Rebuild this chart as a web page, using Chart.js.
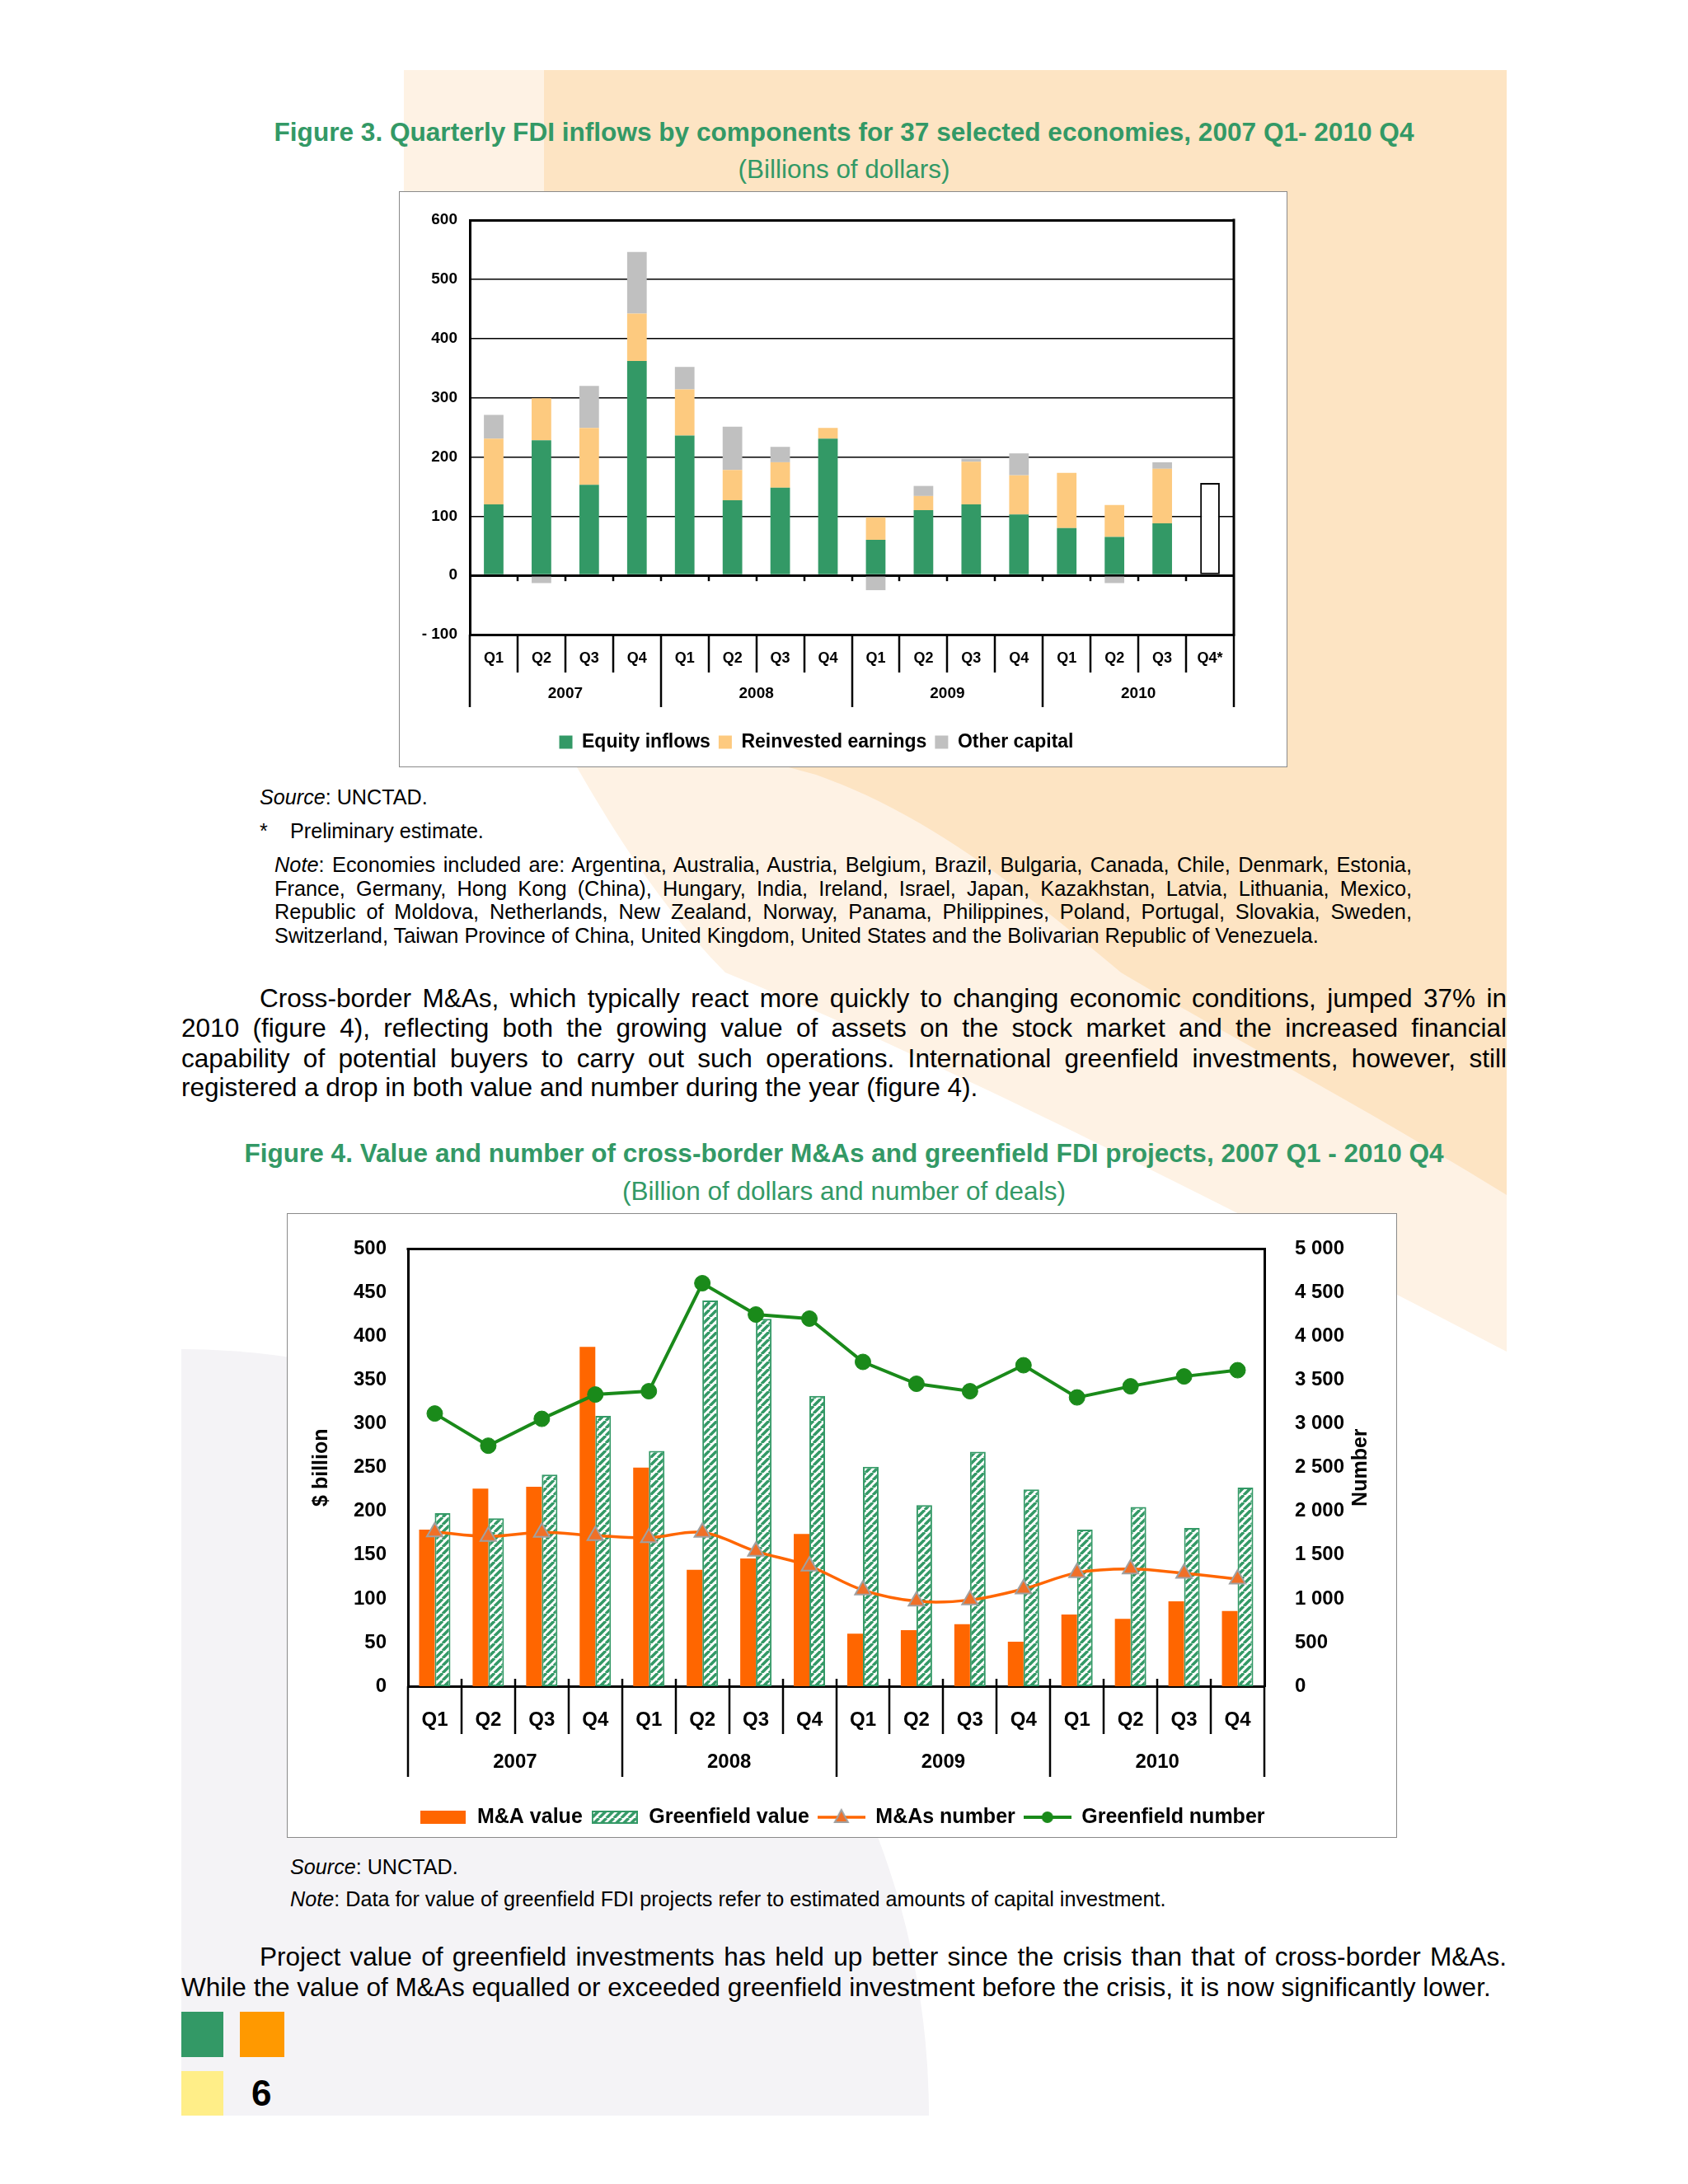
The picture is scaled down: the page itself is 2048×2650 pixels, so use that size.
<!DOCTYPE html>
<html>
<head>
<meta charset="utf-8">
<title>Quarterly FDI inflows, M&amp;As and greenfield projects</title>
<script src="https://cdn.jsdelivr.net/npm/chart.js@4.4.1/dist/chart.umd.min.js"></script>
<style>
  html, body { margin: 0; padding: 0; background: #fff; }
  #page { position: relative; width: 2048px; height: 2650px; overflow: hidden;
          font-family: "Liberation Sans", Arial, sans-serif; color: #000; }
  #bg { position: absolute; left: 0; top: 0; }
  .t { position: absolute; white-space: nowrap; font-size: 24px; line-height: 24px; }
  .ctr { left: 1024px; transform: translateX(-50%); }
  .figtitle { color: #339966; font-weight: bold; }
  .figsub { color: #339966; }
  .box { position: absolute; background: #fff; border: 1.5px solid #8a8a8a; box-sizing: border-box; }
  canvas { position: absolute; }
  .sq { position: absolute; }
</style>
</head>
<body>
<div id="page">
  <svg id="bg" width="2048" height="2650" viewBox="0 0 2048 2650">
    <path d="M490 85 H1828 V1640 C1560 1500 1150 1290 880 1180 C800 1100 740 1000 700 931 L490 931 Z" fill="#fef2e4"/>
    <path d="M660 85 H1828 V1450 C1650 1340 1460 1240 1360 1180 C1240 1080 1130 990 990 940 C850 900 720 890 660 880 Z" fill="#fde4c3"/>
    <path d="M220 1637 A907 930 0 0 1 1127 2567 L220 2567 Z" fill="#f4f3f6"/>
  </svg>

  <div class="t ctr figtitle" data-fit="t3" data-g="t3" data-w="1383" data-c="161">Figure 3. Quarterly FDI inflows by components for 37 selected economies, 2007 Q1- 2010 Q4</div>
  <div class="t ctr figsub" data-fit="s3" data-g="s3" data-w="257" data-c="206">(Billions of dollars)</div>
  <div class="box" style="left:484px;top:232px;width:1078px;height:699px"></div>
  <canvas id="fdiChart" width="1078" height="699" style="left:484px;top:232px"></canvas>

  <div class="t" data-g="src" data-c="968" style="left:315px"><i>Source</i>: UNCTAD.</div>
  <div class="t" data-g="src" data-c="1009" style="left:315px">*</div>
  <div class="t" data-fit="src" data-g="src" data-w="235" data-c="1009" style="left:352px">Preliminary estimate.</div>
  <div class="t jl" data-g="note3" data-w="1380" data-c="1049.4" style="left:333px"><i>Note</i>: Economies included are: Argentina, Australia, Austria, Belgium, Brazil, Bulgaria, Canada, Chile, Denmark, Estonia,</div>
  <div class="t jl" data-g="note3" data-w="1380" data-c="1078.2" style="left:333px">France, Germany, Hong Kong (China), Hungary, India, Ireland, Israel, Japan, Kazakhstan, Latvia, Lithuania, Mexico,</div>
  <div class="t jl" data-g="note3" data-w="1380" data-c="1107" style="left:333px">Republic of Moldova, Netherlands, New Zealand, Norway, Panama, Philippines, Poland, Portugal, Slovakia, Sweden,</div>
  <div class="t" data-fit="note3" data-g="note3" data-w="1267" data-c="1135.7" style="left:333px">Switzerland, Taiwan Province of China, United Kingdom, United States and the Bolivarian Republic of Venezuela.</div>

  <div class="t jl" data-g="body" data-w="1513" data-c="1212" style="left:315px">Cross-border M&amp;As, which typically react more quickly to changing economic conditions, jumped 37% in</div>
  <div class="t jl" data-g="body" data-w="1608" data-c="1247.4" style="left:220px">2010 (figure 4), reflecting both the growing value of assets on the stock market and the increased financial</div>
  <div class="t jl" data-g="body" data-w="1608" data-c="1284.7" style="left:220px">capability of potential buyers to carry out such operations. International greenfield investments, however, still</div>
  <div class="t" data-g="body" data-c="1320.2" style="left:220px">registered a drop in both value and number during the year (figure 4).</div>

  <div class="t ctr figtitle" data-fit="t4" data-g="t4" data-w="1456" data-c="1400">Figure 4. Value and number of cross-border M&amp;As and greenfield FDI projects, 2007 Q1 - 2010 Q4</div>
  <div class="t ctr figsub" data-fit="s4" data-g="s4" data-w="538" data-c="1445.5">(Billion of dollars and number of deals)</div>
  <div class="box" style="left:348px;top:1472px;width:1347px;height:758px"></div>
  <canvas id="dealChart" width="1347" height="758" style="left:348px;top:1472px"></canvas>

  <div class="t" data-g="src" data-c="2266" style="left:352px"><i>Source</i>: UNCTAD.</div>
  <div class="t" data-fit="note4" data-g="note4" data-w="1063" data-c="2305" style="left:352px"><i>Note</i>: Data for value of greenfield FDI projects refer to estimated amounts of capital investment.</div>

  <div class="t jl" data-g="body" data-w="1513" data-c="2374.7" style="left:315px">Project value of greenfield investments has held up better since the crisis than that of cross-border M&amp;As.</div>
  <div class="t" data-fit="body" data-g="body" data-w="1589" data-c="2412" style="left:220px">While the value of M&amp;As equalled or exceeded greenfield investment before the crisis, it is now significantly lower.</div>

  <div class="sq" style="left:220px;top:2441px;width:51px;height:55px;background:#339966"></div>
  <div class="sq" style="left:291px;top:2441px;width:54px;height:55px;background:#ff9900"></div>
  <div class="sq" style="left:220px;top:2513px;width:51px;height:54px;background:#ffee88"></div>
  <div class="t" style="left:305px;top:2518px;font-size:44px;line-height:44px;font-weight:bold">6</div>
</div>

<script>
// ---------- figure 3 data (billions of dollars) ----------
var fdiQuarters = ['Q1', 'Q2', 'Q3', 'Q4', 'Q1', 'Q2', 'Q3', 'Q4', 'Q1', 'Q2', 'Q3', 'Q4', 'Q1', 'Q2', 'Q3', 'Q4*'];
var fdiYears = ['2007', '2008', '2009', '2010'];
var equityInflows      = [120, 228, 153, 362, 236, 127, 148, 231,  60, 110, 120, 103,  80,  65,  88, null];
var reinvestedEarnings = [111,  71,  96,  80,  78,  51,  43,  18,  38,  24,  72,  66,  93,  54,  92, null];
var otherCapital       = [ 40, -13,  71, 104,  38,  73,  26,   0, -25,  17,   5,  37,   0, -13,  11, null];
var preliminaryTotal   = [null, null, null, null, null, null, null, null, null, null, null, null, null, null, null, 156];
var fdiTicks = [-100, 0, 100, 200, 300, 400, 500, 600];

// ---------- figure 4 data ----------
var dealQuarters = ['Q1', 'Q2', 'Q3', 'Q4', 'Q1', 'Q2', 'Q3', 'Q4', 'Q1', 'Q2', 'Q3', 'Q4', 'Q1', 'Q2', 'Q3', 'Q4'];
var dealYears = ['2007', '2008', '2009', '2010'];
var maValue          = [179, 226, 228, 388, 250, 133, 146, 174,  60,  64,  71,  51,  82,  77,  97,  86];
var greenfieldValue  = [198, 192, 242, 309, 269, 441, 420, 332, 251, 207, 268, 225, 179, 205, 181, 227];
var maNumber         = [1764, 1712, 1759, 1722, 1698, 1759, 1542, 1373, 1099, 972, 986, 1113, 1297, 1340, 1292, 1226];
var greenfieldNumber = [3118, 2750, 3057, 3335, 3373, 4608, 4250, 4203, 3708, 3458, 3373, 3670, 3302, 3429, 3542, 3613];
var valueTicks  = [0, 50, 100, 150, 200, 250, 300, 350, 400, 450, 500];
var numberTicks = [0, 500, 1000, 1500, 2000, 2500, 3000, 3500, 4000, 4500, 5000];
var valueAxisTitle = '$ billion';
var numberAxisTitle = 'Number';

var FONT = '"Liberation Sans", Arial, sans-serif';
Chart.defaults.font.family = FONT;
Chart.defaults.color = '#000';

// size the page text so each measured line has the width it has in the page
var groupSize = {};
document.querySelectorAll('[data-fit]').forEach(function (el) {
  var fs = parseFloat(getComputedStyle(el).fontSize);
  groupSize[el.dataset.fit] = fs * parseFloat(el.dataset.w) / el.getBoundingClientRect().width;
});
document.querySelectorAll('[data-g]').forEach(function (el) {
  var fs = groupSize[el.dataset.g];
  el.style.fontSize = fs + 'px';
  el.style.lineHeight = fs + 'px';
  el.style.top = (parseFloat(el.dataset.c) - fs / 2) + 'px';
});
document.querySelectorAll('.jl').forEach(function (el) {
  var natural = el.getBoundingClientRect().width;
  var spaces = (el.textContent.match(/ /g) || []).length;
  if (spaces) el.style.wordSpacing = ((parseFloat(el.dataset.w) - natural) / spaces) + 'px';
});

function hatchPattern(g) {
  var tile = document.createElement('canvas');
  tile.width = 9; tile.height = 9;
  var t = tile.getContext('2d');
  t.fillStyle = '#fff';
  t.fillRect(0, 0, 9, 9);
  t.strokeStyle = '#339966';
  t.lineWidth = 3.5;
  t.beginPath();
  [-9, 0, 9].forEach(function (x0) { t.moveTo(x0, 9); t.lineTo(x0 + 9, 0); });
  t.stroke();
  return g.createPattern(tile, 'repeat');
}

function mark(w, h, paint) {
  var c = document.createElement('canvas');
  c.width = w; c.height = h;
  paint(c.getContext('2d'), w, h);
  return c;
}

// category edges helper
function edgeFn(x) {
  var step = x.getPixelForValue(1) - x.getPixelForValue(0);
  return function (i) { return x.getPixelForValue(i) - step / 2; };
}

// ---------- figure 3 ----------
var fdiAxisPlugin = {
  id: 'fdiAxis',
  afterDraw: function (chart) {
    var ctx = chart.ctx, a = chart.chartArea, x = chart.scales.x, y = chart.scales.y;
    var edge = edgeFn(x);
    var y0 = y.getPixelForValue(0);
    ctx.save();
    ctx.strokeStyle = '#000';
    ctx.lineWidth = 3;
    ctx.beginPath();
    ctx.moveTo(a.right, a.top - 1.5);
    ctx.lineTo(a.right, a.bottom + 1.5);
    ctx.stroke();
    ctx.lineWidth = 2.5;
    for (var i = 0; i <= fdiQuarters.length; i++) {
      var px = Math.round(edge(i));
      ctx.beginPath();
      ctx.moveTo(px, a.bottom);
      ctx.lineTo(px, a.bottom + (i % 4 === 0 ? 88 : 46));
      ctx.stroke();
      if (i > 0 && i < fdiQuarters.length) {
        ctx.beginPath();
        ctx.moveTo(px, y0);
        ctx.lineTo(px, y0 + 7);
        ctx.stroke();
      }
    }
    ctx.fillStyle = '#000';
    ctx.font = 'bold 19px ' + FONT;
    ctx.textAlign = 'center';
    ctx.textBaseline = 'middle';
    fdiYears.forEach(function (yr, k) {
      ctx.fillText(yr, (edge(4 * k) + edge(4 * k + 4)) / 2, a.bottom + 72);
    });
    ctx.restore();
  }
};

new Chart(document.getElementById('fdiChart'), {
  type: 'bar',
  data: {
    labels: fdiQuarters,
    datasets: [
      { label: 'Equity inflows', data: equityInflows, backgroundColor: '#339966' },
      { label: 'Reinvested earnings', data: reinvestedEarnings, backgroundColor: '#fdca7f' },
      { label: 'Other capital', data: otherCapital, backgroundColor: '#c0c0c0' },
      { label: 'Preliminary', data: preliminaryTotal, backgroundColor: '#fff',
        borderColor: '#000', borderWidth: 2, borderSkipped: false }
    ]
  },
  options: {
    responsive: false,
    animation: false,
    layout: { padding: { top: 35, right: 65, bottom: 9, left: 0 } },
    datasets: { bar: { categoryPercentage: 1, barPercentage: 0.41 } },
    plugins: {
      legend: {
        position: 'bottom',
        labels: {
          boxWidth: 16, boxHeight: 16, padding: 10, color: '#000',
          font: { size: 23, weight: 'bold' },
          filter: function (item) { return item.datasetIndex < 3; }
        }
      },
      tooltip: { enabled: false }
    },
    scales: {
      x: {
        stacked: true,
        grid: { display: false },
        border: { display: false },
        ticks: { color: '#000', padding: 10, autoSkip: false, maxRotation: 0,
                 font: { size: 18, weight: 'bold' } },
        afterFit: function (s) { s.height = 109; }
      },
      y: {
        stacked: true,
        min: -100, max: 600,
        afterBuildTicks: function (s) { s.ticks = fdiTicks.map(function (v) { return { value: v }; }); },
        grid: {
          color: '#000', drawTicks: false,
          lineWidth: function (c) { return (c.tick && [600, 0, -100].indexOf(c.tick.value) >= 0) ? 3 : 1.5; }
        },
        border: { color: '#000', width: 3 },
        ticks: {
          color: '#000', padding: 15, font: { size: 19, weight: 'bold' },
          callback: function (v) { return v < 0 ? '- ' + Math.abs(v) : String(v); }
        },
        afterFit: function (s) { s.width = 86; }
      }
    }
  },
  plugins: [fdiAxisPlugin]
});

// ---------- figure 4 ----------
var dealAxisPlugin = {
  id: 'dealAxis',
  afterDraw: function (chart) {
    var ctx = chart.ctx, a = chart.chartArea, x = chart.scales.x;
    var edge = edgeFn(x);
    ctx.save();
    ctx.strokeStyle = '#000';
    ctx.lineWidth = 3;
    ctx.beginPath();
    ctx.moveTo(a.left - 1.5, a.top);
    ctx.lineTo(a.right + 1.5, a.top);
    ctx.stroke();
    ctx.lineWidth = 2.5;
    var n = dealQuarters.length;
    for (var i = 0; i <= n; i++) {
      var px = Math.round(edge(i));
      ctx.beginPath();
      ctx.moveTo(px, (i === 0 || i === n) ? a.bottom : a.bottom - 9);
      ctx.lineTo(px, a.bottom + (i % 4 === 0 ? 110 : 58));
      ctx.stroke();
    }
    ctx.fillStyle = '#000';
    ctx.font = 'bold 24px ' + FONT;
    ctx.textAlign = 'center';
    ctx.textBaseline = 'middle';
    dealYears.forEach(function (yr, k) {
      ctx.fillText(yr, (edge(4 * k) + edge(4 * k + 4)) / 2, a.bottom + 92);
    });
    ctx.font = 'bold 25px ' + FONT;
    var midY = (a.top + a.bottom) / 2;
    [[42, valueAxisTitle], [1303, numberAxisTitle]].forEach(function (t) {
      ctx.save();
      ctx.translate(t[0], midY);
      ctx.rotate(-Math.PI / 2);
      ctx.fillText(t[1], 0, 0);
      ctx.restore();
    });
    ctx.restore();
  }
};

var dealCtx = document.getElementById('dealChart').getContext('2d');

var dealLegendMarks = [
  mark(55, 16, function (g, w, h) { g.fillStyle = '#ff6600'; g.fillRect(0, 0, w, h); }),
  mark(56, 16, function (g, w, h) {
    g.fillStyle = hatchPattern(g); g.fillRect(0, 0, w, h);
    g.strokeStyle = '#339966'; g.lineWidth = 2; g.strokeRect(1, 1, w - 2, h - 2);
  }),
  mark(58, 22, function (g, w, h) {
    g.strokeStyle = '#ff6600'; g.lineWidth = 3.5;
    g.beginPath(); g.moveTo(0, h / 2); g.lineTo(w, h / 2); g.stroke();
    g.fillStyle = '#f07028'; g.strokeStyle = '#a0a0a0'; g.lineWidth = 2;
    g.beginPath(); g.moveTo(w / 2, 2); g.lineTo(w / 2 + 8, 17); g.lineTo(w / 2 - 8, 17); g.closePath();
    g.fill(); g.stroke();
  }),
  mark(58, 22, function (g, w, h) {
    g.strokeStyle = '#1a8a1a'; g.lineWidth = 4;
    g.beginPath(); g.moveTo(0, h / 2); g.lineTo(w, h / 2); g.stroke();
    g.fillStyle = '#1a8a1a';
    g.beginPath(); g.arc(w / 2, h / 2, 7, 0, Math.PI * 2); g.fill();
  })
];

new Chart(dealCtx, {
  type: 'bar',
  data: {
    labels: dealQuarters,
    datasets: [
      { type: 'bar', label: 'M&A value', data: maValue, yAxisID: 'y', order: 3,
        backgroundColor: '#ff6600', borderWidth: 0 },
      { type: 'bar', label: 'Greenfield value', data: greenfieldValue, yAxisID: 'y', order: 4,
        backgroundColor: hatchPattern(dealCtx), borderColor: '#339966', borderWidth: 2, borderSkipped: false },
      { type: 'line', label: 'M&As number', data: maNumber, yAxisID: 'y1', order: 1,
        borderColor: '#ff6600', borderWidth: 3.5, tension: 0.35,
        pointStyle: 'triangle', pointRadius: 11, pointBackgroundColor: '#f07028',
        pointBorderColor: '#a0a0a0', pointBorderWidth: 2 },
      { type: 'line', label: 'Greenfield number', data: greenfieldNumber, yAxisID: 'y1', order: 0,
        borderColor: '#1a8a1a', borderWidth: 4, tension: 0,
        pointStyle: 'circle', pointRadius: 9.5, pointBackgroundColor: '#1a8a1a',
        pointBorderColor: '#1a8a1a', pointBorderWidth: 1 }
    ]
  },
  options: {
    responsive: false,
    animation: false,
    layout: { padding: { top: 40, right: 0, bottom: 2.5, left: 0 } },
    datasets: { bar: { categoryPercentage: 0.585, barPercentage: 1 } },
    plugins: {
      legend: {
        position: 'bottom',
        labels: {
          usePointStyle: true, pointStyleWidth: 58, padding: 10, color: '#000',
          font: { size: 25, weight: 'bold' },
          sort: function (a, b) { return a.datasetIndex - b.datasetIndex; },
          generateLabels: function (chart) {
            return Chart.defaults.plugins.legend.labels.generateLabels(chart).map(function (item) {
              item.pointStyle = dealLegendMarks[item.datasetIndex];
              return item;
            });
          }
        }
      },
      tooltip: { enabled: false }
    },
    scales: {
      x: {
        grid: { display: false },
        border: { color: '#000', width: 3 },
        ticks: { color: '#000', padding: 19, autoSkip: false, maxRotation: 0,
                 font: { size: 24, weight: 'bold' } },
        afterFit: function (s) { s.height = 136.5; }
      },
      y: {
        position: 'left',
        min: 0, max: 500,
        afterBuildTicks: function (s) { s.ticks = valueTicks.map(function (v) { return { value: v }; }); },
        grid: { display: false },
        border: { color: '#000', width: 3 },
        ticks: { color: '#000', padding: 18, font: { size: 24, weight: 'bold' } },
        afterFit: function (s) { s.width = 147; }
      },
      y1: {
        position: 'right',
        min: 0, max: 5000,
        afterBuildTicks: function (s) { s.ticks = numberTicks.map(function (v) { return { value: v }; }); },
        grid: { display: false },
        border: { color: '#000', width: 3 },
        ticks: {
          color: '#000', padding: 29, font: { size: 24, weight: 'bold' },
          callback: function (v) {
            return v >= 1000 ? Math.floor(v / 1000) + ' ' + String(v % 1000).padStart(3, '0') : String(v);
          }
        },
        afterFit: function (s) { s.width = 161; }
      }
    }
  },
  plugins: [dealAxisPlugin]
});
</script>
</body>
</html>
